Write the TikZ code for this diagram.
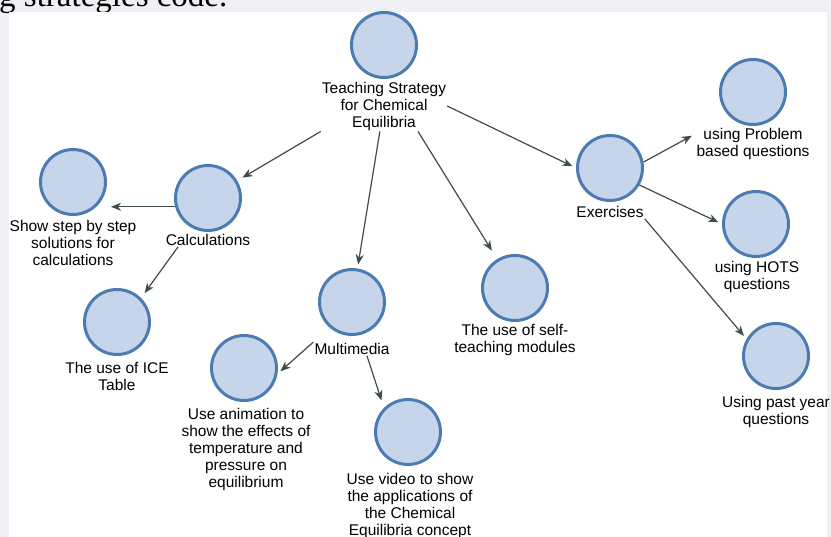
\documentclass[tikz,border=0pt]{standalone}
\usepackage{fontspec}
\setmainfont{Liberation Sans}
\newfontfamily\capserif{Liberation Serif}
\usetikzlibrary{arrows.meta}
\definecolor{bubblefill}{HTML}{C6D5E9}
\definecolor{bubbleline}{HTML}{4C7BB2}
\definecolor{linkcol}{HTML}{3E4C4A}
\definecolor{pagegray}{HTML}{EEF0F4}
\tikzset{
  bubble/.style={circle, draw=bubbleline, fill=bubblefill, line width=3pt,
    minimum size=65pt, inner sep=0pt},
  tag/.style={align=center, inner sep=1pt, font=\fontsize{15.5}{17}\selectfont},
  link/.style={draw=linkcol, line width=1.2pt,
    -{Stealth[length=10pt,width=8pt,inset=3pt]}, shorten >=4pt},
}

\begin{document}
\begin{tikzpicture}[x=1pt, y=-1pt]
\useasboundingbox (0,0) rectangle (831,537);
\clip (0,0) rectangle (831,537);
% page behind the figure
\fill[pagegray] (0,0) rectangle (831,537);
\node[anchor=base west, inner sep=0pt, font=\capserif\fontsize{33}{36}\selectfont] (cap) at (-1,6.5) {g strategies code.};
\fill[white] (9,12) rectangle (827,537);

% concepts
\node[bubble] (root) at (384,45) {};
\node[tag] (root-t) at (384,106) {Teaching Strategy\\for Chemical\\Equilibria};
\node[bubble] (calc) at (208,198) {};
\node[tag] (calc-t) at (208,240) {Calculations};
\node[bubble] (step) at (73,182) {};
\node[tag] (step-t) at (73,243) {Show step by step\\solutions for\\calculations};
\node[bubble] (ice) at (117,322) {};
\node[tag] (ice-t) at (117,376) {The use of ICE\\Table};
\node[bubble] (mm) at (352,302) {};
\node[tag] (mm-t) at (352,349) {Multimedia};
\node[bubble] (anim) at (244,368) {};
\node[tag] (anim-t) at (246,449) {Use animation to\\show the effects of\\temperature and\\pressure on\\equilibrium};
\node[bubble] (video) at (408,432) {};
\node[tag] (video-t) at (410,506) {Use video to show\\the applications of\\the Chemical\\Equilibria concept};
\node[bubble] (self) at (515,288) {};
\node[tag] (self-t) at (515,340) {The use of self-\\teaching modules};
\node[bubble] (ex) at (610,168) {};
\node[tag] (ex-t) at (610,212) {Exercises};
\node[bubble] (prob) at (753,92) {};
\node[tag] (prob-t) at (753,144) {using Problem\\based questions};
\node[bubble] (hots) at (756,224) {};
\node[tag] (hots-t) at (757,277) {using HOTS\\questions};
\node[bubble] (past) at (776,356) {};
\node[tag] (past-t) at (776,412) {Using past year\\questions};

% links
\draw[link, shorten >=6pt] (root-t.south west) -- (calc);
\draw[link] (root-t) -- (mm);
\draw[link, shorten >=10pt] ([xshift=34pt]root-t.south) -- (self);
\draw[link] (root-t.east) -- (ex.west);
\draw[link] (calc.-165) -- (calc.-165 -| step.east);
\draw[link, shorten >=6pt] ([xshift=-30pt]calc-t.south) -- (ice.north east);
\draw[link] (mm-t.north west) -- (anim.-10);
\draw[link, shorten >=8pt] ([xshift=15pt]mm-t.south) -- (video.north west);
\draw[link] (ex.10) -- (prob-t.170);
\draw[link] (ex.-30) -- (hots.west);
\draw[link] (ex-t.south east) -- (past.150);
\end{tikzpicture}
\end{document}
